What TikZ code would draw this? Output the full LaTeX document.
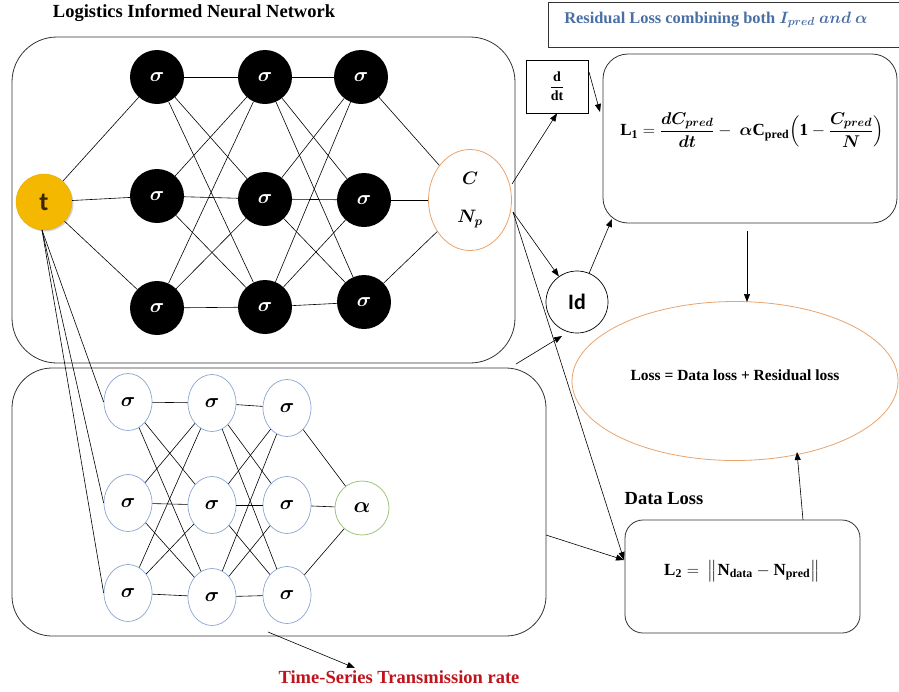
\RequirePackage{fix-cm}
\documentclass[tikz,border=0pt]{standalone}
\usepackage{amsmath,bm}
\usepackage{fontspec}
\setmainfont{Liberation Serif}
\newfontfamily\calib{Carlito}
\usetikzlibrary{shapes.geometric,arrows.meta,shadows}
\definecolor{gold}{HTML}{F5B800}
\definecolor{golddark}{HTML}{E8AA00}
\definecolor{tbrown}{HTML}{3A2500}
\definecolor{orangeb}{HTML}{E9A46E}
\definecolor{blueb}{HTML}{8AA6D2}
\definecolor{greenb}{HTML}{9CC77E}
\definecolor{restext}{HTML}{4A6FA5}
\definecolor{redtext}{HTML}{C0141C}
\newcommand{\myLone}{$\mathbf{L_1} = \dfrac{\bm{dC_{pred}}}{\bm{dt}} -\ \bm{\alpha}\mathbf{C_{pred}}\Bigl(\mathbf{1} - \dfrac{\bm{C_{pred}}}{\bm{N}}\Bigr)$}
\newcommand{\myLtwo}{$\mathbf{L_2} =\ \bigl\|\mathbf{N_{data}} - \mathbf{N_{pred}}\bigr\|$}
\newcommand{\mysig}{$\bm{\sigma}$}
\begin{document}
\begin{tikzpicture}[x=1pt,y=-1pt,
  conn/.style={draw=black, line width=0.6pt},
  arr/.style={conn,-{Triangle[length=8pt,width=6pt]}},
  bn/.style={circle, fill=black, minimum size=54pt, inner sep=0pt, text=white, font=\fontsize{20}{20}\selectfont},
  sn/.style={ellipse, draw=blueb, line width=0.7pt, fill=white, minimum width=48pt, minimum height=57pt, inner sep=0pt, font=\fontsize{20}{20}\selectfont},
  boxr/.style={draw=black!80, line width=0.8pt},
  lbl/.style={inner sep=0pt, font=\bfseries\fontsize{18.5}{20}\selectfont}
]
\useasboundingbox (0,0) rectangle (899,691);
\fill[white] (0,0) rectangle (899,691);

% frames
\draw[boxr, rounded corners=45pt] (12,37) rectangle (515,363);
\draw[boxr, rounded corners=40pt] (12,368) rectangle (546,636);
\draw[boxr, rounded corners=25pt] (603,54) rectangle (897,223);
\draw[boxr, rounded corners=18pt] (625,520) rectangle (860,633);
\draw[boxr] (548,2) rectangle (905,47);

% titles
\node[lbl] (title) at (194,13) {Logistics Informed Neural Network};
\node[lbl, text=restext, font=\bfseries\fontsize{16.4}{18}\selectfont] (restitle) at (716,20) {Residual Loss combining both $\bm{I_{pred}}$ $\bm{and}$ $\bm{\alpha}$};
\node[lbl, text=redtext] (tstr) at (399,677) {Time-Series Transmission rate};
\node[lbl] (dltitle) at (664,499) {Data Loss};

% input
\node[circle, fill=gold, draw=golddark, minimum size=56pt, inner sep=0pt, drop shadow={opacity=0.35, shadow xshift=1.5pt, shadow yshift=-1.5pt}, text=tbrown, font=\calib\bfseries\fontsize{26}{26}\selectfont] (t) at (44,202) {t};

% top network
\node[bn] (a1) at (157,77) {\mysig};
\node[bn] (a2) at (157,196) {\mysig};
\node[bn] (a3) at (157,308) {\mysig};
\node[bn] (b1) at (265,77) {\mysig};
\node[bn] (b2) at (265,199) {\mysig};
\node[bn] (b3) at (265,307) {\mysig};
\node[bn] (c1) at (361,77) {\mysig};
\node[bn] (c2) at (364,200) {\mysig};
\node[bn] (c3) at (364,302) {\mysig};
\node[ellipse, draw=orangeb, line width=0.8pt, minimum width=83pt, minimum height=101pt, inner sep=0pt, align=center, font=\fontsize{18}{18}\selectfont] (out) at (470,200) {$\bm{C}$\\[20pt]$\bm{N_p}$};

\foreach \x in {a1,a2,a3} \draw[conn] (t) -- (\x);
\foreach \x in {a1,a2,a3} \foreach \y in {b1,b2,b3} \draw[conn] (\x) -- (\y);
\foreach \x in {b1,b2,b3} \foreach \y in {c1,c2,c3} \draw[conn] (\x) -- (\y);
\foreach \x in {c1,c2,c3} \draw[conn] (\x) -- (out);

% bottom network
\node[sn] (p1) at (128,402) {\mysig};
\node[sn] (p2) at (128,503) {\mysig};
\node[sn] (p3) at (128,593) {\mysig};
\node[sn] (q1) at (212,403) {\mysig};
\node[sn] (q2) at (212,505) {\mysig};
\node[sn] (q3) at (212,597) {\mysig};
\node[sn] (r1) at (287,408) {\mysig};
\node[sn] (r2) at (287,505) {\mysig};
\node[sn] (r3) at (287,595) {\mysig};
\node[circle, draw=greenb, line width=0.8pt, minimum size=54pt, inner sep=0pt, font=\fontsize{22}{22}\selectfont] (al) at (362,508) {$\bm{\alpha}$};

\coordinate (ts) at (42,230);
\foreach \x in {p1,p2,p3} \draw[conn] (ts) -- (\x.west);
\foreach \x in {p1,p2,p3} \foreach \y in {q1,q2,q3} \draw[conn] (\x) -- (\y);
\foreach \x in {q1,q2,q3} \foreach \y in {r1,r2,r3} \draw[conn] (\x) -- (\y);
\foreach \x in {r1,r2,r3} \draw[conn] (\x) -- (al);

% right side
\node[draw=black, line width=0.7pt, minimum width=62pt, minimum height=53pt, inner sep=0pt, font=\fontsize{14}{14}\selectfont] (dd) at (557,86.5) {$\dfrac{\mathbf{d}}{\mathbf{dt}}$};
\node[circle, draw=black, line width=0.7pt, minimum size=62pt, inner sep=0pt, font=\calib\bfseries\fontsize{22}{22}\selectfont] (Id) at (577,302) {Id};
\node[inner sep=0pt, font=\fontsize{17}{17}\selectfont] (L1) at (752,130) {\myLone};
\node[ellipse, draw=orangeb, line width=0.8pt, minimum width=326pt, minimum height=159pt, inner sep=0pt] (loss) at (735,381) {};
\node[lbl, font=\bfseries\fontsize{15.5}{17}\selectfont] (losst) at (735,375) {Loss = Data loss + Residual loss};
\node[inner sep=0pt, font=\fontsize{17}{17}\selectfont] (L2) at (742,571) {\myLtwo};

% connectors
\coordinate (o1) at (512,184);
\coordinate (o2) at (513,212);
\coordinate (ddo) at (589,72);
\coordinate (l1in) at (600,112);
\coordinate (l1b) at (612,219);
\coordinate (idb) at (562,336);
\coordinate (bb) at (516,364);
\coordinate (dlin) at (624,560);
\coordinate (bbr) at (546,535);
\coordinate (l1s) at (747,231);
\coordinate (losstop) at (747,302);
\coordinate (dlt) at (803,520);
\coordinate (lossbot) at (797,452);
\coordinate (tsa) at (268,632);
\coordinate (tsb) at (355,668);

\draw[arr] (o1) -- (dd.south);
\draw[arr] (ddo) -- (l1in);
\draw[arr] (o2) -- (Id);
\draw[arr] (o2) -- (dlin);
\draw[arr] (bbr) -- (dlin);
\draw[arr] (bb) -- (idb);
\draw[arr] (Id) -- (l1b);
\draw[arr] (l1s) -- (losstop);
\draw[arr] (dlt) -- (lossbot);
\draw[arr] (tsa) -- (tsb);
\end{tikzpicture}
\end{document}
